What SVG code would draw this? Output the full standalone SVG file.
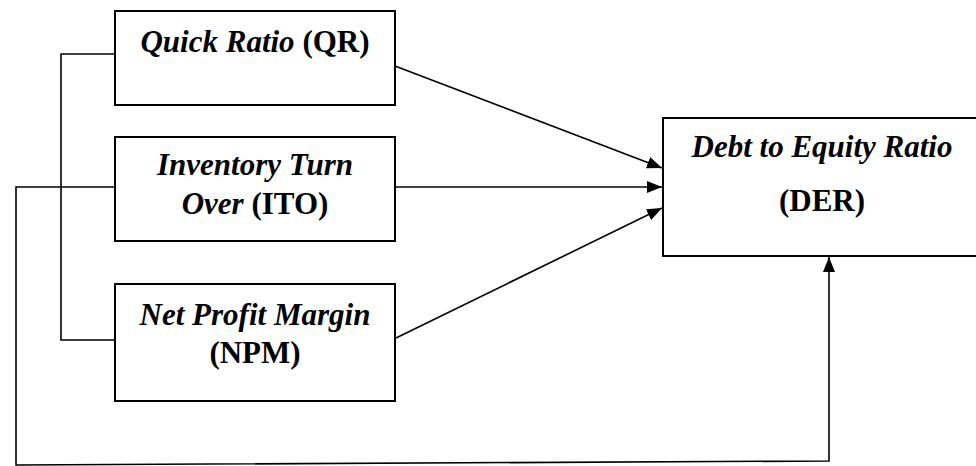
<svg xmlns="http://www.w3.org/2000/svg" width="976" height="466" viewBox="0 0 976 466">
<style>
.box{fill:#fff;stroke:#000;stroke-width:2}
.ln{fill:none;stroke:#000;stroke-width:1.6}
.t{font-family:'Liberation Serif','Times New Roman',serif;font-size:31px;font-weight:bold;text-anchor:middle;fill:#000}
.i{font-style:italic}
</style>
<defs>
<marker id="ah" viewBox="0 0 15 12" refX="15" refY="6" markerWidth="15" markerHeight="12" markerUnits="userSpaceOnUse" orient="auto">
<path d="M0,0 L15,6 L0,12 Z" fill="#000"/>
</marker>
</defs>
<g id="connectors">
<polyline class="ln" points="115,54 61,54 61,340 115,340"/>
<polyline class="ln" points="115,187 16,187 16,465 829,461 829,257" marker-end="url(#ah)"/>
<line class="ln" x1="395" y1="66" x2="662" y2="168" marker-end="url(#ah)"/>
<line class="ln" x1="395" y1="187" x2="662" y2="187" marker-end="url(#ah)"/>
<line class="ln" x1="396" y1="338" x2="662" y2="208" marker-end="url(#ah)"/>
</g>
<g id="qr">
<rect class="box" x="115" y="11" width="280" height="94"/>
<text class="t" x="255" y="52"><tspan class="i">Quick Ratio</tspan> (QR)</text>
</g>
<g id="ito">
<rect class="box" x="115" y="137" width="280" height="104"/>
<text class="t i" x="255" y="175">Inventory Turn</text>
<text class="t" x="255" y="214"><tspan class="i">Over</tspan> (ITO)</text>
</g>
<g id="npm">
<rect class="box" x="115" y="284" width="280" height="117"/>
<text class="t i" x="255" y="325">Net Profit Margin</text>
<text class="t" x="255" y="363">(NPM)</text>
</g>
<g id="der">
<rect class="box" x="663" y="118" width="330" height="138"/>
<text class="t i" x="822" y="157">Debt to Equity Ratio</text>
<text class="t" x="822" y="211">(DER)</text>
</g>
</svg>
